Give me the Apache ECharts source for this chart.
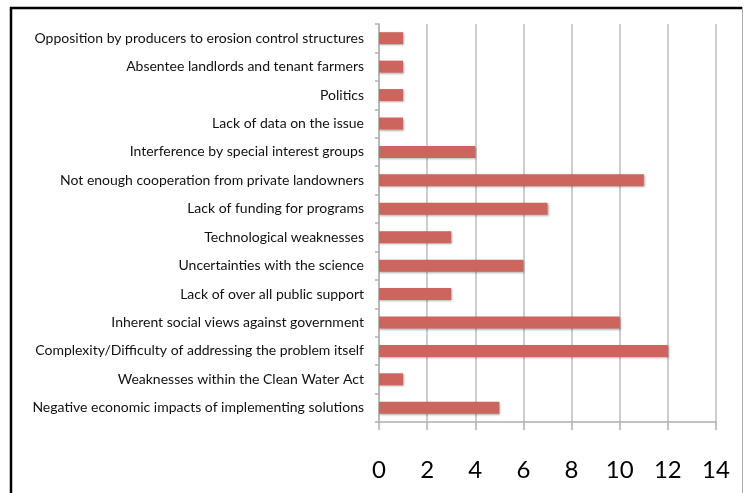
<!DOCTYPE html>
<html>
<head>
<meta charset="utf-8">
<script src="https://cdn.jsdelivr.net/npm/echarts@6/dist/echarts.min.js"></script>
<style>
html,body{margin:0;padding:0;background:#fff;}
#chart{width:744px;height:493px;}
</style>
</head>
<body>
<div id="chart"></div>
<script>
var categories = [
  "Opposition by producers to erosion control structures",
  "Absentee landlords and tenant farmers",
  "Politics",
  "Lack of data on the issue",
  "Interference by special interest groups",
  "Not enough cooperation from private landowners",
  "Lack of funding for programs",
  "Technological weaknesses",
  "Uncertainties with the science",
  "Lack of over all public support",
  "Inherent social views against government",
  "Complexity/Difficulty of addressing the problem itself",
  "Weaknesses within the Clean Water Act",
  "Negative economic impacts of implementing solutions"
];
var values = [1, 1, 1, 1, 4, 11, 7, 3, 6, 3, 10, 12, 1, 5];
var xTicks = { min: 0, max: 14, interval: 2 };

var chart = echarts.init(document.getElementById('chart'), null, {renderer: 'canvas'});
chart.setOption({
  animation: false,
  backgroundColor: '#ffffff',
  graphic: [
    { type: 'line', shape: { x1: 10, y1: 8, x2: 742, y2: 8 }, style: { stroke: '#000', lineWidth: 2.5 } },
    { type: 'line', shape: { x1: 11, y1: 7, x2: 11, y2: 500 }, style: { stroke: '#000', lineWidth: 2.5 } },
    { type: 'line', shape: { x1: 742.5, y1: 7, x2: 742.5, y2: 500 }, style: { stroke: '#aaa', lineWidth: 1 } }
  ],
  grid: { left: 379, right: 28, top: 24, bottom: 71, containLabel: false },
  xAxis: {
    type: 'value',
    min: xTicks.min, max: xTicks.max, interval: xTicks.interval,
    axisLine: { show: true, lineStyle: { color: '#b0b0b0', width: 1.5 } },
    axisTick: { show: true, length: 8, lineStyle: { color: '#b0b0b0', width: 1.5 } },
    splitLine: { show: true, lineStyle: { color: '#bdbdbd', width: 1.5 } },
    axisLabel: { fontFamily: 'Lato', fontSize: 24, color: '#000', margin: 36 }
  },
  yAxis: {
    type: 'category',
    inverse: true,
    data: categories,
    boundaryGap: true,
    axisLine: { show: true, lineStyle: { color: '#b0b0b0', width: 1.5 } },
    axisTick: { show: true, length: 4, inside: false, lineStyle: { color: '#b0b0b0', width: 1.5 } },
    axisLabel: { fontFamily: 'Lato', fontSize: 14, color: '#111', margin: 15 }
  },
  series: [{
    type: 'bar',
    data: values,
    barWidth: 12,
    itemStyle: {
      color: '#cc655e',
      shadowColor: 'rgba(0,0,0,0.3)',
      shadowBlur: 2,
      shadowOffsetX: 1,
      shadowOffsetY: 1
    }
  }]
});
</script>
</body>
</html>
